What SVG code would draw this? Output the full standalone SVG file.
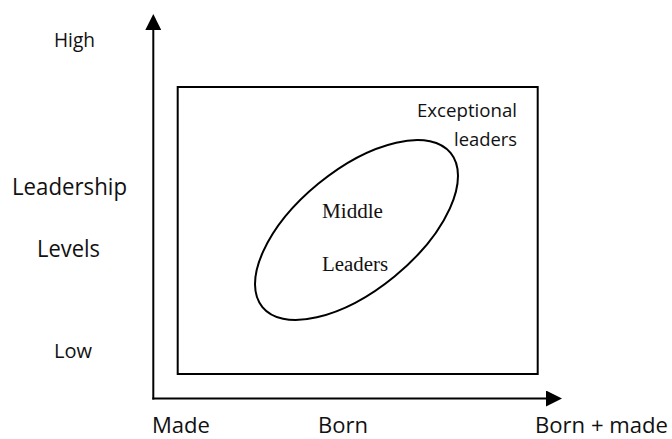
<svg xmlns="http://www.w3.org/2000/svg" width="672" height="439" viewBox="0 0 672 439">
  <style>
    .label { font-family: "Open Sans", "Liberation Sans", sans-serif; fill: #111; }
    .serif { font-family: "Liberation Serif", "Times New Roman", serif; fill: #111; }
    .line { fill: none; stroke: #000; stroke-width: 2; }
  </style>
  <defs>
    <marker id="arrow" markerUnits="userSpaceOnUse" markerWidth="16" markerHeight="16" refX="0" refY="8" orient="auto">
      <path d="M0,0 L16,8 L0,16 Z" fill="#000"/>
    </marker>
  </defs>

  <rect width="672" height="439" fill="#fff"/>

  <!-- axes -->
  <g id="connectors">
    <line class="line" x1="153.3" y1="399.5" x2="153.3" y2="30" marker-end="url(#arrow)"/>
    <line class="line" x1="152.3" y1="398.5" x2="546" y2="398.5" marker-end="url(#arrow)"/>
  </g>

  <!-- outer frame -->
  <g id="frame">
    <rect class="line" x="177.7" y="87" width="360" height="287"/>
  </g>

  <!-- middle leaders region -->
  <g id="middle-leaders">
    <ellipse class="line" cx="356.5" cy="230" rx="121.6" ry="60" transform="rotate(-39.3 356.5 230)"/>
    <text class="serif" x="322" y="218" font-size="20" textLength="61" lengthAdjust="spacingAndGlyphs">Middle</text>
    <text class="serif" x="322" y="271" font-size="20" textLength="66" lengthAdjust="spacingAndGlyphs">Leaders</text>
  </g>

  <g id="exceptional-leaders">
    <text class="label" x="417" y="117" font-size="18" textLength="100" lengthAdjust="spacingAndGlyphs">Exceptional</text>
    <text class="label" x="454" y="146" font-size="18" textLength="63" lengthAdjust="spacingAndGlyphs">leaders</text>
  </g>

  <!-- vertical axis labels -->
  <g id="y-labels">
    <text class="label" x="54" y="47" font-size="20" textLength="41" lengthAdjust="spacingAndGlyphs">High</text>
    <text class="label" x="12" y="195" font-size="24" textLength="115" lengthAdjust="spacingAndGlyphs">Leadership</text>
    <text class="label" x="37" y="257" font-size="24" textLength="63" lengthAdjust="spacingAndGlyphs">Levels</text>
    <text class="label" x="54" y="358" font-size="20" textLength="38" lengthAdjust="spacingAndGlyphs">Low</text>
  </g>

  <!-- horizontal axis labels -->
  <g id="x-labels">
    <text class="label" x="152" y="433" font-size="21" textLength="58" lengthAdjust="spacingAndGlyphs">Made</text>
    <text class="label" x="318" y="433" font-size="21" textLength="50" lengthAdjust="spacingAndGlyphs">Born</text>
    <text class="label" x="535" y="433" font-size="21" textLength="133" lengthAdjust="spacingAndGlyphs">Born + made</text>
  </g>
</svg>
